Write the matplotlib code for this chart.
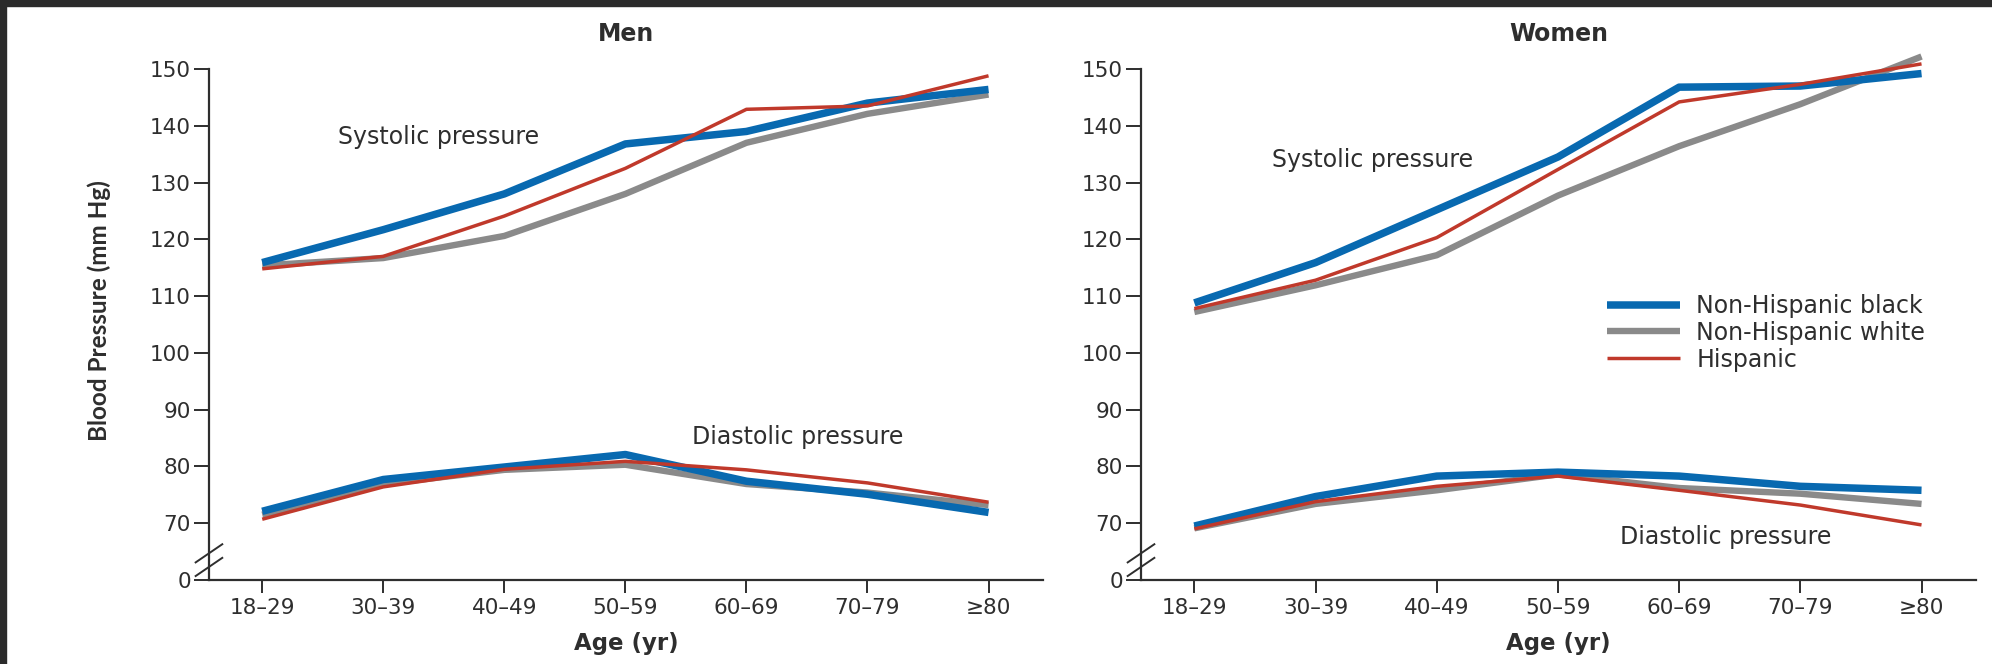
import matplotlib
matplotlib.use("Agg")
import matplotlib.pyplot as plt
from matplotlib.patches import Rectangle

plt.rcParams['font.family'] = ['DejaVu Sans']

ages = ['18\u201329', '30\u201339', '40\u201349', '50\u201359', '60\u201369', '70\u201379', '\u226580']
series = ['Non-Hispanic black', 'Non-Hispanic white', 'Hispanic']

# men
men_sys_black = [115.9, 121.7, 128.0, 136.8, 139.0, 144.0, 146.4]
men_sys_white = [115.4, 116.7, 120.6, 128.0, 137.0, 142.1, 145.5]
men_sys_hisp = [114.8, 117.0, 124.1, 132.5, 142.9, 143.5, 148.8]
men_dia_black = [72.1, 77.7, 79.9, 82.1, 77.4, 75.1, 71.9]
men_dia_white = [71.5, 76.9, 79.4, 80.3, 76.9, 75.4, 73.2]
men_dia_hisp = [70.7, 76.4, 79.5, 80.9, 79.4, 77.1, 73.7]

# women
wom_sys_black = [108.8, 115.9, 125.2, 134.5, 146.8, 147.0, 149.2]
wom_sys_white = [107.2, 111.9, 117.2, 127.7, 136.4, 143.8, 152.2]
wom_sys_hisp = [107.8, 112.8, 120.3, 132.3, 144.2, 147.3, 150.9]
wom_dia_black = [69.5, 74.7, 78.3, 79.0, 78.3, 76.5, 75.8]
wom_dia_white = [69.1, 73.4, 75.8, 78.6, 76.2, 75.2, 73.4]
wom_dia_hisp = [69.0, 73.8, 76.5, 78.3, 75.8, 73.2, 69.7]

# axis is broken: position 60 carries the "0" label
ytick_vals = [60, 70, 80, 90, 100, 110, 120, 130, 140, 150]
ytick_labels = ['0', '70', '80', '90', '100', '110', '120', '130', '140', '150']

BLUE = '#0869b0'
GRAY = '#8a8a8a'
RED = '#c0392b'
TXT = '#2e2e2e'

styles = {
    'Non-Hispanic white': dict(color=GRAY, lw=4.6, zorder=3),
    'Non-Hispanic black': dict(color=BLUE, lw=5.4, zorder=4),
    'Hispanic': dict(color=RED, lw=2.5, zorder=5),
}

fig = plt.figure(figsize=(19.92, 6.64), dpi=100)
fig.patch.set_facecolor('white')

x = list(range(len(ages)))


def panel(ax, title, sys_data, dia_data, sys_pos, dia_pos):
    for name in ['Non-Hispanic white', 'Non-Hispanic black', 'Hispanic']:
        st = styles[name]
        ax.plot(x, sys_data[name], color=st['color'], lw=st['lw'], zorder=st['zorder'],
                solid_capstyle='butt', clip_on=False, label=name)
        ax.plot(x, dia_data[name], color=st['color'], lw=st['lw'], zorder=st['zorder'],
                solid_capstyle='butt', clip_on=False)
    ax.set_xlim(-0.44, 6.45)
    ax.set_ylim(60, 150)
    ax.set_xticks(x)
    ax.set_xticklabels(ages)
    ax.set_yticks(ytick_vals)
    ax.set_yticklabels(ytick_labels)
    for s in ['top', 'right']:
        ax.spines[s].set_visible(False)
    for s in ['left', 'bottom']:
        ax.spines[s].set_color(TXT)
        ax.spines[s].set_linewidth(1.6)
    ax.tick_params(axis='y', length=11, width=1.4, color=TXT, labelsize=15.5, labelcolor=TXT, pad=2)
    ax.tick_params(axis='x', length=9, width=1.4, color=TXT, labelsize=15.5, labelcolor=TXT, pad=4)
    ax.set_title(title, fontsize=17, fontweight='bold', color=TXT, pad=20)
    ax.set_xlabel('Age (yr)', fontsize=16.5, fontweight='bold', color=TXT, labelpad=10)
    ax.text(sys_pos[0], sys_pos[1], 'Systolic pressure', fontsize=17, color=TXT,
            ha='left', va='center')
    ax.text(dia_pos[0], dia_pos[1], 'Diastolic pressure', fontsize=17, color=TXT,
            ha='left', va='center')
    # axis break marks
    for dy in (-1.2, 1.2):
        ax.plot([-0.55, -0.33], [63.5 + dy - 1.6, 63.5 + dy + 1.6], color=TXT, lw=1.4,
                clip_on=False, zorder=6)


ax1 = fig.add_axes([0.1049, 0.1265, 0.4187, 0.7696])
ax2 = fig.add_axes([0.5728, 0.1265, 0.4192, 0.7696])

panel(ax1, 'Men',
      {'Non-Hispanic black': men_sys_black, 'Non-Hispanic white': men_sys_white, 'Hispanic': men_sys_hisp},
      {'Non-Hispanic black': men_dia_black, 'Non-Hispanic white': men_dia_white, 'Hispanic': men_dia_hisp},
      (0.63, 138.0), (3.55, 85.1))
panel(ax2, 'Women',
      {'Non-Hispanic black': wom_sys_black, 'Non-Hispanic white': wom_sys_white, 'Hispanic': wom_sys_hisp},
      {'Non-Hispanic black': wom_dia_black, 'Non-Hispanic white': wom_dia_white, 'Hispanic': wom_dia_hisp},
      (0.64, 134.0), (3.51, 67.6))

ax1.set_ylabel('Blood Pressure (mm Hg)', fontsize=17.5, fontweight='bold', color=TXT,
               family=['Lato', 'DejaVu Sans'])
ax1.yaxis.set_label_coords(-0.117, 0.528)

handles, labels = ax2.get_legend_handles_labels()
order = [labels.index(s) for s in series]
leg = ax2.legend([handles[i] for i in order], [labels[i] for i in order],
                 loc='upper left', bbox_to_anchor=(0.558, 0.560), frameon=False,
                 fontsize=17, handlelength=3.1, handletextpad=0.68, labelspacing=0.12,
                 borderaxespad=0, borderpad=0)
for t in leg.get_texts():
    t.set_color(TXT)

# dark screen border of the screenshot
fig.patches.append(Rectangle((0, 1 - 6 / 664), 1, 6 / 664, transform=fig.transFigure,
                             color='#2b2b2b', zorder=10))
fig.patches.append(Rectangle((0, 0), 6 / 1992, 1, transform=fig.transFigure,
                             color='#2b2b2b', zorder=10))

fig.savefig('out.png', dpi=100)
